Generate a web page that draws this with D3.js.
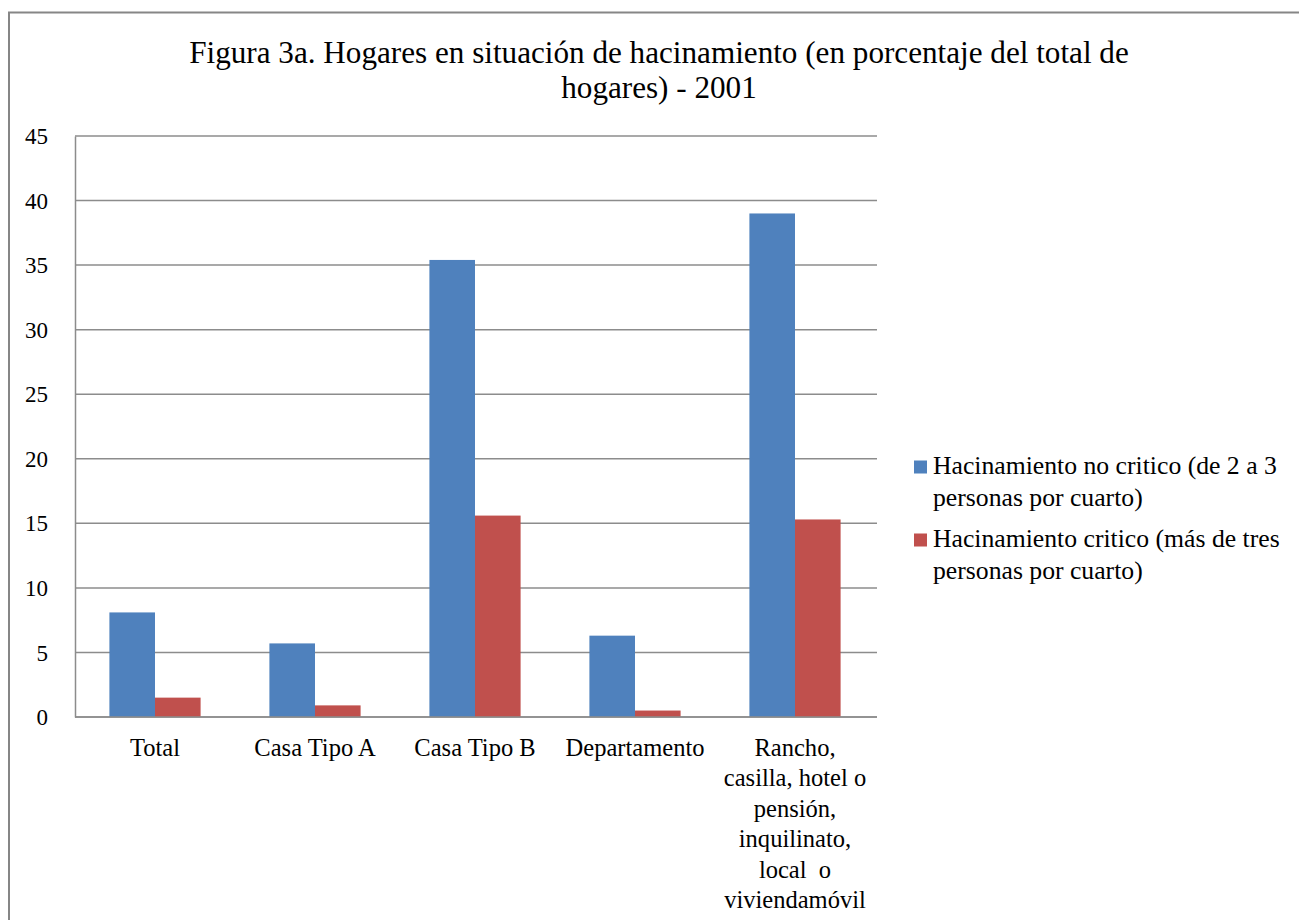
<!DOCTYPE html>
<html>
<head>
<meta charset="utf-8">
<script src="https://cdn.jsdelivr.net/npm/d3@7"></script>
<style>
  html, body { margin: 0; padding: 0; background: #ffffff; }
  svg { display: block; }
</style>
</head>
<body>
<svg id="chart" width="1299" height="920"></svg>
<script>
const categories = [
  ["Total"],
  ["Casa Tipo A"],
  ["Casa Tipo B"],
  ["Departamento"],
  ["Rancho,", "casilla, hotel o", "pensión,", "inquilinato,", "local  o", "viviendamóvil"]
];
const categoryKeys = ["Total", "Casa Tipo A", "Casa Tipo B", "Departamento", "Rancho"];
const seriesNames = ["noCritico", "critico"];
const noCritico = [8.1, 5.7, 35.4, 6.3, 39.0];
const critico = [1.5, 0.9, 15.6, 0.5, 15.3];
const yTicks = [0, 5, 10, 15, 20, 25, 30, 35, 40, 45];
const legendLabels = [
  ["Hacinamiento no critico (de 2 a 3", "personas por cuarto)"],
  ["Hacinamiento critico (más de tres", "personas por cuarto)"]
];
const titleLines = [
  "Figura 3a. Hogares en situación de hacinamiento (en porcentaje del total de",
  "hogares) - 2001"
];
const colors = ["#4F81BD", "#C0504D"];

const FONT = '"Liberation Serif"';
const svg = d3.select("#chart");

// measure text width in the serif font with an SVG probe
function fitSize(s, target) {
  const t = svg.append("text").style("font-family", FONT).style("font-size", "40px").text(s);
  const w = t.node().getComputedTextLength();
  t.remove();
  return w > 0 ? 40 * target / w : 20;
}

// outer border
svg.append("rect").attr("x", 9).attr("y", 12.5).attr("width", 1299).attr("height", 920)
  .attr("fill", "#ffffff").attr("stroke", "#868686").attr("stroke-width", 2);

const pLeft = 75, pRight = 877, pTop = 136, pBottom = 717;

const x = d3.scaleBand().domain(categoryKeys).range([pLeft, pLeft + 800]).paddingInner(0.43).paddingOuter(0.215);
const xs = d3.scaleBand().domain(seriesNames).range([0, x.bandwidth()]);
const y = d3.scaleLinear().domain([0, 45]).range([pBottom, pTop]);

const titleSize = fitSize(titleLines[0], 940);
const legendSize = fitSize(legendLabels[0][0], 344);
const xSize = fitSize("Departamento", 139);
const ySize = fitSize("45", 23);

// title
svg.append("g").selectAll("text").data(titleLines).join("text")
  .attr("x", 659).attr("y", (d, i) => 63 + i * 35)
  .attr("text-anchor", "middle").attr("fill", "#000")
  .style("font-family", FONT).style("font-size", titleSize + "px").text(d => d);

// gridlines
svg.append("g").selectAll("line").data(yTicks).join("line")
  .attr("x1", pLeft).attr("x2", pRight)
  .attr("y1", d => y(d)).attr("y2", d => y(d))
  .attr("stroke", "#8c8c8c").attr("stroke-width", 1.5);

// y axis
const yAxis = svg.append("g").attr("transform", `translate(${pLeft},0)`)
  .call(d3.axisLeft(y).tickValues(yTicks).tickSize(0).tickPadding(27).tickFormat(d3.format("d")));
yAxis.select(".domain").attr("stroke", "#8c8c8c").attr("stroke-width", 1.5);
yAxis.selectAll("text").attr("fill", "#000").attr("dy", "0.33em")
  .style("font-family", FONT).style("font-size", ySize + "px");

// bars
const data = categoryKeys.map((k, i) => ({ key: k, values: [noCritico[i], critico[i]] }));
const groups = svg.append("g").selectAll("g").data(data).join("g")
  .attr("transform", d => `translate(${x(d.key)},0)`);
groups.selectAll("rect").data(d => d.values.map((v, j) => ({ s: seriesNames[j], v, j })))
  .join("rect")
  .attr("x", d => xs(d.s)).attr("width", xs.bandwidth())
  .attr("y", d => y(d.v)).attr("height", d => y(0) - y(d.v))
  .attr("fill", d => colors[d.j]);

// x axis
const xAxis = svg.append("g").attr("transform", `translate(0,${pBottom})`)
  .call(d3.axisBottom(x).tickSize(0).tickFormat(() => ""));
xAxis.select(".domain").attr("stroke", "#8c8c8c").attr("stroke-width", 1.5).attr("d", `M${pLeft},0H${pRight}`);
xAxis.selectAll(".tick").each(function (d, i) {
  const t = d3.select(this).select("text").text(null).attr("y", 0).attr("dy", null)
    .attr("fill", "#000").attr("xml:space", "preserve")
    .style("font-family", FONT).style("font-size", xSize + "px");
  categories[i].forEach((line, li) => {
    t.append("tspan").attr("x", 0).attr("y", 39 + li * 30.4).text(line);
  });
});

// legend
const legend = svg.append("g").attr("transform", "translate(914,0)");
const legY = [474, 547];
legendLabels.forEach((lines, i) => {
  legend.append("rect").attr("x", 0).attr("y", legY[i] - 13.5).attr("width", 13).attr("height", 13).attr("fill", colors[i]);
  const t = legend.append("text").attr("fill", "#000")
    .style("font-family", FONT).style("font-size", legendSize + "px");
  lines.forEach((line, li) => {
    t.append("tspan").attr("x", 19).attr("y", legY[i] + li * 32).text(line);
  });
});
</script>
</body>
</html>
